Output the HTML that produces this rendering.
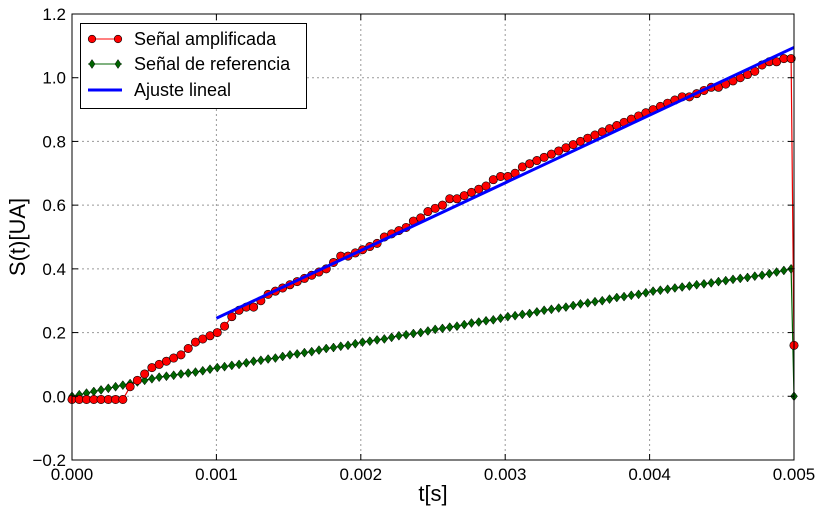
<!DOCTYPE html>
<html><head><meta charset="utf-8"><style>
body{margin:0;background:#fff;}
svg{display:block;font-family:"Liberation Sans","DejaVu Sans",sans-serif;}
</style></head><body>
<svg id="chart" width="822" height="511" viewBox="0 0 822 511" xmlns="http://www.w3.org/2000/svg">
<rect x="0" y="0" width="822" height="511" fill="#fff"/>
<g id="grid"></g>
<g id="series"></g>
<rect x="72" y="14" width="722" height="446" fill="none" stroke="#000" stroke-width="1"/>
<g id="ticks"></g>
<text x="433" y="501" font-size="22" text-anchor="middle">t[s]</text>
<text x="0" y="0" font-size="22" text-anchor="middle" transform="translate(25,237) rotate(-90)">S(t)[UA]</text>
<g>
<rect x="80.5" y="23.5" width="226" height="85" fill="#fff" stroke="#000"/>
<g>
<line x1="88" y1="39" x2="122" y2="39" stroke="#f00" stroke-width="1"/>
<circle cx="92" cy="39" r="3.8" fill="#f00" stroke="#000" stroke-width="0.6"/>
<circle cx="118" cy="39" r="3.8" fill="#f00" stroke="#000" stroke-width="0.6"/>
<text x="134" y="45" font-size="18">Señal amplificada</text></g>
<g>
<line x1="88" y1="64" x2="122" y2="64" stroke="#006400" stroke-width="1"/>
<polygon points="92,59.5 95,64 92,68.5 89,64" fill="#006400" stroke="#000" stroke-width="0.5"/>
<polygon points="118,59.5 121,64 118,68.5 115,64" fill="#006400" stroke="#000" stroke-width="0.5"/>
<text x="134" y="70" font-size="18">Señal de referencia</text></g>
<g>
<line x1="88" y1="90" x2="122" y2="90" stroke="#00f" stroke-width="3"/>
<text x="134" y="96" font-size="18">Ajuste lineal</text></g>
</g>
</svg>
<script>
const xTicks=[0,0.001,0.002,0.003,0.004,0.005];
const xTickLabels=["0.000","0.001","0.002","0.003","0.004","0.005"];
const yTicks=[-0.2,0,0.2,0.4,0.6,0.8,1.0,1.2];
const yTickLabels=["\u22120.2","0.0","0.2","0.4","0.6","0.8","1.0","1.2"];
const timeStep=0.00005;
const lastTime=0.005;
const amplificada=[-0.01,-0.01,-0.01,-0.01,-0.01,-0.01,-0.01,-0.01,0.03,0.05,
0.07,0.09,0.10,0.11,0.12,0.13,0.15,0.17,0.18,0.19,
0.20,0.22,0.25,0.27,0.28,0.28,0.30,0.32,0.33,0.34,
0.35,0.36,0.37,0.38,0.39,0.40,0.42,0.44,0.44,0.45,
0.46,0.47,0.48,0.50,0.51,0.52,0.53,0.55,0.56,0.58,
0.59,0.60,0.62,0.62,0.63,0.64,0.65,0.66,0.68,0.69,
0.69,0.70,0.72,0.73,0.74,0.75,0.76,0.77,0.78,0.79,
0.80,0.81,0.82,0.83,0.84,0.85,0.86,0.87,0.88,0.89,
0.90,0.91,0.92,0.93,0.94,0.94,0.95,0.96,0.97,0.97,
0.98,0.99,1.00,1.01,1.02,1.04,1.05,1.05,1.06,1.06,0.16];
const referencia=[0.00,0.005,0.01,0.015,0.02,0.025,0.03,0.035,0.04,0.045,
0.05,0.055,0.06,0.063,0.066,0.07,0.073,0.076,0.08,0.085,
0.09,0.093,0.097,0.10,0.105,0.11,0.113,0.117,0.12,0.125,
0.13,0.133,0.137,0.14,0.145,0.15,0.153,0.157,0.16,0.165,
0.17,0.173,0.177,0.18,0.185,0.19,0.193,0.197,0.20,0.205,
0.21,0.213,0.217,0.22,0.225,0.23,0.233,0.237,0.24,0.245,
0.25,0.253,0.257,0.26,0.265,0.27,0.273,0.277,0.28,0.285,
0.29,0.293,0.297,0.30,0.305,0.31,0.313,0.317,0.32,0.325,
0.33,0.333,0.336,0.34,0.343,0.346,0.35,0.353,0.356,0.36,
0.363,0.367,0.37,0.373,0.377,0.38,0.385,0.39,0.395,0.40,0.00];
const fitT=[0.001,0.005];
const fitV=[0.245,1.095];
const NS="http://www.w3.org/2000/svg";
const X=t=>72+t/0.005*722;
const Y=v=>14+(1.2-v)/1.4*446;
function tAt(i,n){return i===n-1?lastTime:i*timeStep*(0.00498/0.00495);}
function mk(tag,attrs,parent){const e=document.createElementNS(NS,tag);for(const k in attrs)e.setAttribute(k,attrs[k]);parent.appendChild(e);return e;}
const grid=document.getElementById('grid'),ticks=document.getElementById('ticks'),series=document.getElementById('series');
xTicks.forEach((t,i)=>{const x=X(t);
 if(i>0&&i<xTicks.length-1){const g=mk('line',{x1:x,y1:14,x2:x,y2:460,stroke:'#999','stroke-dasharray':'2,3'},grid);
 
 }
 const a=mk('line',{x1:x,y1:460,x2:x,y2:454,stroke:'#000'},ticks);
 const b=mk('line',{x1:x,y1:14,x2:x,y2:20,stroke:'#000'},ticks);
 const l=mk('text',{x:x,y:480,'font-size':17,'text-anchor':'middle'},ticks);l.textContent=xTickLabels[i];
 
 });
yTicks.forEach((v,i)=>{const y=Y(v);
 if(i>0&&i<yTicks.length-1){const g=mk('line',{x1:72,y1:y,x2:794,y2:y,stroke:'#999','stroke-dasharray':'2,3'},grid);
 
 }
 const a=mk('line',{x1:72,y1:y,x2:78,y2:y,stroke:'#000'},ticks);
 const b=mk('line',{x1:794,y1:y,x2:788,y2:y,stroke:'#000'},ticks);
 const l=mk('text',{x:66,y:y+6,'font-size':17,'text-anchor':'end'},ticks);l.textContent=yTickLabels[i];
 
 });
function pts(arr){return arr.map((v,i)=>X(tAt(i,arr.length))+','+Y(v)).join(' ');}
const gl=mk('polyline',{points:pts(referencia),fill:'none',stroke:'#006400','stroke-width':1.2},series);


referencia.forEach((v,i)=>{const x=X(tAt(i,referencia.length)),y=Y(v);
 const p=mk('polygon',{points:`${x},${y-4.5} ${x+3.5},${y} ${x},${y+4.5} ${x-3.5},${y}`,fill:'#006400',stroke:'#000','stroke-width':0.5},series);
 
 });
const rl=mk('polyline',{points:pts(amplificada),fill:'none',stroke:'#e00','stroke-width':1.2},series);


amplificada.forEach((v,i)=>{const c=mk('circle',{cx:X(tAt(i,amplificada.length)),cy:Y(v),r:4.2,fill:'#f00',stroke:'#000','stroke-width':0.6},series);
 
 });
const fl=mk('line',{x1:X(fitT[0]),y1:Y(fitV[0]),x2:X(fitT[1]),y2:Y(fitV[1]),stroke:'#00f','stroke-width':3},series);


</script>
</body></html>
